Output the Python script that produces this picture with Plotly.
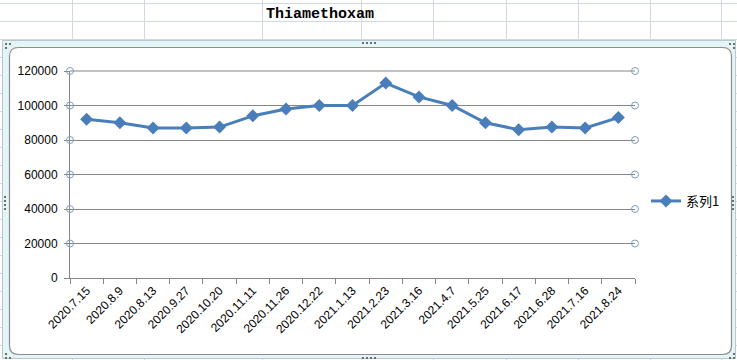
import plotly.graph_objects as go

# ---------------- data ----------------
categories = ["2020.7.15", "2020.8.9", "2020.8.13", "2020.9.27", "2020.10.20",
              "2020.11.11", "2020.11.26", "2020.12.22", "2021.1.13", "2021.2.23",
              "2021.3.16", "2021.4.7", "2021.5.25", "2021.6.17", "2021.6.28",
              "2021.7.16", "2021.8.24"]
series1 = [92000, 90000, 87000, 87000, 87500, 94000, 98000, 100000, 100000,
           113000, 105000, 100000, 90000, 86000, 87500, 87000, 93000]
series_name = "系列1"
title_text = "Thiamethoxam"
y_ticks = [0, 20000, 40000, 60000, 80000, 100000, 120000]
y_min, y_max = 0, 120000

# ---------------- layout geometry (pixels) ----------------
W_FIG, H_FIG = 737, 360
L, R, T, B = 70, 635, 71, 278
PW, PH = R - L, B - T


def fx(px):
    return (px - L) / PW


def fy(py):
    return (B - py) / PH


shapes = []

# spreadsheet cell grid
grid_col = "#D0D7E5"
for cx in [72, 144, 262, 361, 433, 506, 578, 650, 721]:
    shapes.append(dict(type="line", xref="paper", yref="paper", layer="below",
                       x0=fx(cx + 0.5), x1=fx(cx + 0.5), y0=fy(0), y1=fy(360),
                       line=dict(color=grid_col, width=1)))
for ry in range(3, 360, 18):
    shapes.append(dict(type="line", xref="paper", yref="paper", layer="below",
                       x0=fx(0), x1=fx(737), y0=fy(ry + 0.5), y1=fy(ry + 0.5),
                       line=dict(color=grid_col, width=1)))

# chart selection frame
shapes.append(dict(type="rect", xref="paper", yref="paper", layer="below",
                   x0=fx(2.5), x1=fx(735.5), y0=fy(40.5), y1=fy(358.5),
                   fillcolor="#E3F5F6", line=dict(color="#B8C8CC", width=1)))

# inner white rounded chart area
x0, x1, y0, y1, r = 9.5, 731.5, 47.5, 354.5, 9


def P(px, py):
    return f"{fx(px):.5f},{fy(py):.5f}"


path = (f"M {P(x0 + r, y0)} L {P(x1 - r, y0)} Q {P(x1, y0)} {P(x1, y0 + r)} "
        f"L {P(x1, y1 - r)} Q {P(x1, y1)} {P(x1 - r, y1)} "
        f"L {P(x0 + r, y1)} Q {P(x0, y1)} {P(x0, y1 - r)} "
        f"L {P(x0, y0 + r)} Q {P(x0, y0)} {P(x0 + r, y0)} Z")
shapes.append(dict(type="path", xref="paper", yref="paper", layer="below",
                   path=path, fillcolor="white", line=dict(color="#8C8C8C", width=1.2)))

axis_col = "#868686"

# top gridline (at the edge of the plot area)
shapes.append(dict(type="line", xref="paper", yref="paper", layer="below",
                   x0=0, x1=1, y0=1, y1=1, line=dict(color=axis_col, width=1)))

# selection handles (small dots)
handle_col = "#6E6E6E"
handles = []
for hx in [362, 366, 370, 374]:
    handles.append((hx, 42))
    handles.append((hx, 357))
for hy in [196, 200, 204, 208]:
    handles.append((4, hy))
    handles.append((732, hy))
for cx_, cy_ in [(5, 43), (9, 43), (5, 47), (729, 43), (733, 43), (733, 47),
                 (5, 357), (5, 353), (9, 357), (733, 357), (729, 357), (733, 353)]:
    handles.append((cx_, cy_))
for hx, hy in handles:
    shapes.append(dict(type="rect", xref="paper", yref="paper", layer="above",
                       x0=fx(hx), x1=fx(hx + 2), y0=fy(hy), y1=fy(hy + 2),
                       fillcolor=handle_col, line=dict(width=0)))

# gridline selection circles at both ends
for v in y_ticks[1:]:
    yp = (v - y_min) / (y_max - y_min)
    for xa in [0, 1]:
        shapes.append(dict(type="circle", xref="paper", yref="paper", layer="above",
                           xsizemode="pixel", xanchor=xa, x0=-3.5, x1=3.5,
                           ysizemode="pixel", yanchor=yp, y0=-3.5, y1=3.5,
                           line=dict(color="#7F9DC1", width=1),
                           fillcolor="rgba(0,0,0,0)"))

fig = go.Figure()
fig.add_trace(go.Scatter(
    x=categories, y=series1, name=series_name, mode="lines+markers",
    line=dict(color="#4A7EBB", width=3),
    marker=dict(symbol="diamond", size=10, color="#4A7EBB"),
))

fig.update_layout(
    width=W_FIG, height=H_FIG,
    margin=dict(l=L, r=W_FIG - R, t=T, b=H_FIG - B, pad=0, autoexpand=False),
    paper_bgcolor="white", plot_bgcolor="rgba(0,0,0,0)",
    font=dict(family="Liberation Sans", size=12, color="black"),
    shapes=shapes,
    showlegend=True,
    legend=dict(x=fx(646), y=fy(201), xanchor="left", yanchor="middle",
                bgcolor="rgba(0,0,0,0)",
                font=dict(family="Noto Sans CJK SC", size=13, color="black")),
    annotations=[dict(text=title_text, xref="paper", yref="paper",
                      x=fx(264), y=fy(14), xanchor="left", yanchor="middle",
                      showarrow=False,
                      font=dict(family="Liberation Mono", size=15, color="black",
                                weight="bold"))],
    xaxis=dict(type="category", range=[-0.5, len(categories) - 0.5],
               tickson="boundaries", ticks="outside", ticklen=5,
               tickcolor=axis_col, showline=True, linecolor=axis_col,
               linewidth=1, showgrid=False, tickangle=-45,
               tickfont=dict(family="Liberation Sans", size=12, color="black"),
               fixedrange=True),
    yaxis=dict(range=[y_min, y_max], tickvals=y_ticks, tickformat="d",
               ticks="outside", ticklen=5, tickcolor=axis_col, showline=True,
               linecolor=axis_col, linewidth=1, showgrid=True,
               gridcolor=axis_col, gridwidth=1, zeroline=False,
               ticklabelstandoff=4,
               tickfont=dict(family="Liberation Sans", size=12, color="black"),
               fixedrange=True),
)

fig.write_html("out.html", config={"displayModeBar": False},
               post_script="document.body.style.margin='0';"
                           "document.body.style.overflow='hidden';")
